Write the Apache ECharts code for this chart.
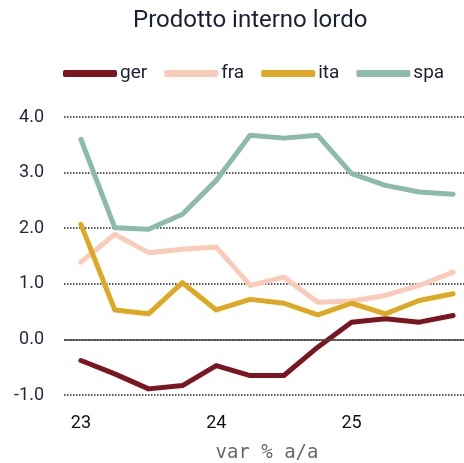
<!DOCTYPE html>
<html>
<head>
<meta charset="utf-8">
<script src="https://cdn.jsdelivr.net/npm/echarts@6/dist/echarts.min.js"></script>
<style>
  html, body { margin: 0; padding: 0; background: #fff; }
  #chart { width: 464px; height: 463px; }
</style>
</head>
<body>
<div id="chart"></div>
<script>
// trimestri 2023-2025
var quarters = ['23Q1','23Q2','23Q3','23Q4','24Q1','24Q2','24Q3','24Q4','25Q1','25Q2','25Q3','25Q4'];
var ger = [-0.38, -0.62, -0.89, -0.83, -0.47, -0.65, -0.65, -0.14, 0.31, 0.37, 0.31, 0.43];
var fra = [1.39, 1.89, 1.56, 1.62, 1.66, 0.97, 1.12, 0.67, 0.69, 0.79, 0.97, 1.21];
var ita = [2.07, 0.53, 0.46, 1.02, 0.53, 0.72, 0.65, 0.44, 0.65, 0.46, 0.70, 0.82];
var spa = [3.60, 2.01, 1.98, 2.25, 2.86, 3.67, 3.62, 3.67, 2.98, 2.77, 2.65, 2.61];
var seriesNames = ['ger', 'fra', 'ita', 'spa'];
var colors = ['#7b1520', '#f9cbb8', '#dea822', '#8cbbab'];

var chart = echarts.init(document.getElementById('chart'));

function makeLine(name, data, color, withZero) {
    var s = {
        name: name,
        type: 'line',
        data: data,
        showSymbol: false,
        symbol: 'none',
        color: color,
        lineStyle: { width: 5, color: color, cap: 'round', join: 'round' }
    };
    if (withZero) {
        // linea dello zero
        s.markLine = {
            silent: true,
            symbol: 'none',
            label: { show: false },
            lineStyle: { type: 'solid', color: '#444', width: 1.5 },
            data: [{ yAxis: 0 }]
        };
    }
    return s;
}

var option = {
    animation: false,
    title: {
        text: 'Prodotto interno lordo',
        left: 128,
        top: 4,
        textStyle: { fontFamily: 'Roboto', fontSize: 24, fontWeight: 'normal', color: '#1b1f33' }
    },
    legend: {
        data: seriesNames,
        left: 58,
        top: 59,
        icon: 'roundRect',
        itemWidth: 54,
        itemHeight: 7,
        itemGap: 17,
        textStyle: { fontFamily: 'Roboto', fontSize: 19, color: '#1b1f33', padding: [0, 0, 0, -2] }
    },
    grid: { left: 64, top: 117, width: 406, bottom: 68, outerBoundsMode: 'none' },
    xAxis: {
        type: 'category',
        data: quarters,
        boundaryGap: true,
        name: 'var % a/a',
        nameLocation: 'middle',
        nameGap: 49,
        nameTextStyle: { fontFamily: 'DejaVu Sans Mono', fontSize: 19, color: '#666' },
        axisLine: { show: false },
        axisTick: { show: false },
        axisLabel: {
            interval: 0,
            margin: 19,
            fontFamily: 'Roboto',
            fontSize: 18,
            color: '#111',
            formatter: function (v) { return v.slice(2) === 'Q1' ? v.slice(0, 2) : ''; }
        }
    },
    yAxis: {
        type: 'value',
        min: -1,
        max: 4,
        interval: 1,
        axisLine: { show: false },
        axisTick: { show: false },
        axisLabel: {
            margin: 20,
            fontFamily: 'Roboto',
            fontSize: 18,
            color: '#1f2744',
            formatter: function (v) { return v.toFixed(1); }
        },
        splitLine: { lineStyle: { type: [1.5, 1.5], color: '#222', width: 1.5 } }
    },
    series: [
        makeLine('ger', ger, colors[0], true),
        makeLine('fra', fra, colors[1]),
        makeLine('ita', ita, colors[2]),
        makeLine('spa', spa, colors[3])
    ]
};

chart.setOption(option);
</script>
</body>
</html>
